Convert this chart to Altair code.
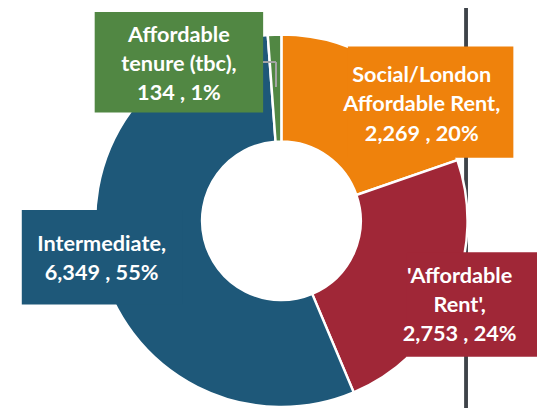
import altair as alt
import pandas as pd

# ---- data ----
categories = ["Social/London Affordable Rent", "'Affordable Rent'", "Intermediate", "Affordable tenure (tbc)"]
values = [2269, 2753, 6349, 134]
percents = ["20%", "24%", "55%", "1%"]
label_lines = [
    ["Social/London", "Affordable Rent,", "2,269 , 20%"],
    ["'Affordable", "Rent',", "2,753 , 24%"],
    ["Intermediate,", "6,349 , 55%"],
    ["Affordable", "tenure (tbc),", "134 , 1%"],
]

# ---- styles / layout (chart coordinates = page coordinates - 8) ----
colors = ["#EF820C", "#A02737", "#1E5879", "#518743"]
CX, CY = 277.5, 213
R_IN, R_OUT = 80.5, 189
box_x0 = [345, 405, 14, 88]
box_x1 = [513, 560, 177, 259]
box_y0 = [36, 245, 202, 1]
box_y1 = [149, 351, 298, 103]
text_x = [420, 458.5, 95, 173.5]
text_y = [65.5, 269.5, 237, 24.5]  # first line centre

lay = pd.DataFrame({
    "cat": categories,
    "value": values,
    "idx": list(range(len(categories))),
    "x0": box_x0, "x1": box_x1, "y0": box_y0, "y1": box_y1,
    "tx": text_x, "ty": text_y,
    "label": ["\n".join(l) for l in label_lines],
})

color_scale = alt.Scale(domain=categories, range=colors)

border = alt.Chart(lay).mark_rule(color="#3E4349", strokeWidth=3).encode(
    x=alt.value(465), y=alt.value(-10), y2=alt.value(410)
)

arcs = alt.Chart(lay).mark_arc(
    innerRadius=R_IN, outerRadius=R_OUT, stroke="white", strokeWidth=2.5
).encode(
    theta=alt.Theta("value:Q", stack=True),
    order=alt.Order("idx:O"),
    color=alt.Color("cat:N", scale=color_scale, legend=None),
    x=alt.value(CX), y=alt.value(CY),
)

boxes = alt.Chart(lay).mark_rect().encode(
    x=alt.X("x0:Q", scale=None, axis=None),
    x2="x1:Q",
    y=alt.Y("y0:Q", scale=None, axis=None),
    y2="y1:Q",
    color=alt.Color("cat:N", scale=color_scale, legend=None),
)

texts = alt.Chart(lay).mark_text(
    font="Lato", fontWeight="bold", fontSize=22, color="white",
    align="center", baseline="middle", lineBreak="\n", lineHeight=29.5,
).encode(
    x=alt.X("tx:Q", scale=None, axis=None),
    y=alt.Y("ty:Q", scale=None, axis=None),
    text="label:N",
)

lead_h = alt.Chart(lay).mark_rule(color="#A6A6A6", strokeWidth=1.5).encode(
    x=alt.value(259), x2=alt.value(272), y=alt.value(52)
)
lead_v = alt.Chart(lay).mark_rule(color="#A6A6A6", strokeWidth=1.5).encode(
    x=alt.value(272), y=alt.value(52), y2=alt.value(77)
)

chart = alt.layer(border, arcs, boxes, texts, lead_h, lead_v).properties(
    width=537, height=400, padding=0, autosize=alt.AutoSizeParams(type="none")
).configure_view(strokeWidth=0)

chart.save("out.html", embed_options={"renderer": "svg", "actions": False})
